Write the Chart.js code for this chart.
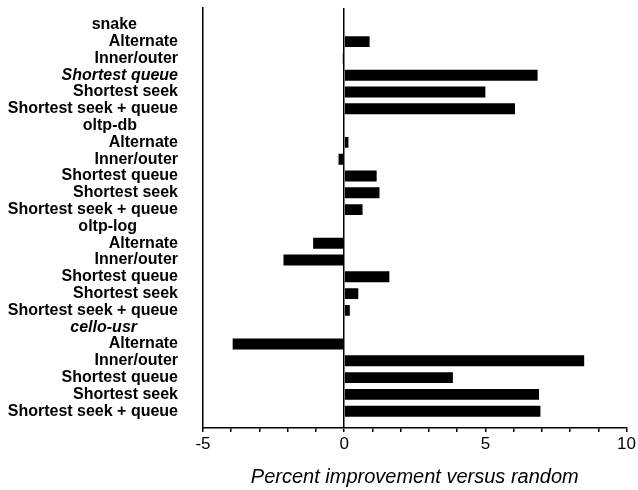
<!DOCTYPE html>
<html>
<head>
<meta charset="utf-8">
<script src="https://cdn.jsdelivr.net/npm/chart.js@4/dist/chart.umd.min.js"></script>
<style>
  html, body { margin: 0; padding: 0; background: #fff; }
  #wrap { width: 638px; height: 490px; }
</style>
</head>
<body>
<div id="wrap"><canvas id="chart" width="638" height="490"></canvas></div>
<script>
// rows top to bottom; group headers have no bar
const categories = [
    'snake', 'Alternate', 'Inner/outer', 'Shortest queue', 'Shortest seek', 'Shortest seek + queue',
    'oltp-db', 'Alternate', 'Inner/outer', 'Shortest queue', 'Shortest seek', 'Shortest seek + queue',
    'oltp-log', 'Alternate', 'Inner/outer', 'Shortest queue', 'Shortest seek', 'Shortest seek + queue',
    'cello-usr', 'Alternate', 'Inner/outer', 'Shortest queue', 'Shortest seek', 'Shortest seek + queue'
];
const improvement = [
    null, 0.9, -0.05, 6.85, 5.0, 6.05,
    null, 0.15, -0.2, 1.15, 1.25, 0.65,
    null, -1.1, -2.15, 1.6, 0.5, 0.2,
    null, -3.95, 8.5, 3.85, 6.9, 6.95
];
const groupRows = [0, 6, 12, 18];
const italicRows = [3, 18];
const xTicks = [-5, 0, 5, 10];

const FONT = "'Liberation Sans', Arial, Helvetica, sans-serif";

// one empty slot above and below, as in the original axis
const labels = [''].concat(categories, ['']);
const values = [null].concat(improvement, [null]);

function rowOf(tickIndex) {
    return tickIndex - 1;
}

const groupHeaders = {
    id: 'groupHeaders',
    afterDraw(chart) {
        const ctx = chart.ctx;
        const yScale = chart.scales.y;
        const x = chart.chartArea.left - 66;
        ctx.save();
        ctx.fillStyle = '#000';
        ctx.textAlign = 'right';
        ctx.textBaseline = 'middle';
        groupRows.forEach(r => {
            const italic = italicRows.includes(r) ? 'italic ' : '';
            ctx.font = italic + 'bold 16px ' + FONT;
            ctx.fillText(categories[r], x, yScale.getPixelForValue(r + 1));
        });
        ctx.restore();
    }
};

new Chart(document.getElementById('chart'), {
    type: 'bar',
    data: {
        labels: labels,
        datasets: [{
            data: values,
            backgroundColor: '#000',
            borderWidth: 0,
            barPercentage: 0.65,
            categoryPercentage: 1
        }]
    },
    options: {
        indexAxis: 'y',
        responsive: false,
        animation: false,
        layout: { padding: { top: 8, right: 11, left: 0, bottom: 0 } },
        plugins: {
            legend: { display: false },
            tooltip: { enabled: false }
        },
        scales: {
            y: {
                offset: false,
                grid: { display: false },
                border: { display: true, color: '#000', width: 1.5 },
                afterFit: (scale) => {
                    scale.width = 203;
                    scale.paddingTop = 0;
                    scale.paddingBottom = 0;
                },
                ticks: {
                    autoSkip: false,
                    padding: 17,
                    color: '#000',
                    font: (c) => ({
                        family: FONT,
                        size: 16,
                        weight: 'bold',
                        style: italicRows.includes(rowOf(c.index)) ? 'italic' : 'normal'
                    }),
                    callback: function (value, index) {
                        const r = rowOf(index);
                        if (r < 0 || r >= categories.length || groupRows.includes(r)) return '';
                        return categories[r];
                    }
                }
            },
            x: {
                min: -5,
                max: 10,
                border: { display: true, color: '#000', width: 1.5 },
                afterFit: (scale) => { scale.height = 62; },
                grid: {
                    drawOnChartArea: true,
                    color: (c) => (c.tick && c.tick.value === 0 ? '#000' : 'rgba(0,0,0,0)'),
                    lineWidth: 1.5,
                    tickColor: '#000',
                    tickLength: 4
                },
                ticks: {
                    stepSize: 1,
                    autoSkip: false,
                    maxRotation: 0,
                    padding: 2,
                    color: '#000',
                    font: { family: FONT, size: 17 },
                    callback: (value) => (xTicks.includes(value) ? String(value) : '')
                },
                title: {
                    display: true,
                    text: 'Percent improvement versus random',
                    color: '#000',
                    font: { family: FONT, size: 20, style: 'italic' },
                    padding: { top: 4, bottom: 1 }
                }
            }
        }
    },
    plugins: [groupHeaders]
});
</script>
</body>
</html>
